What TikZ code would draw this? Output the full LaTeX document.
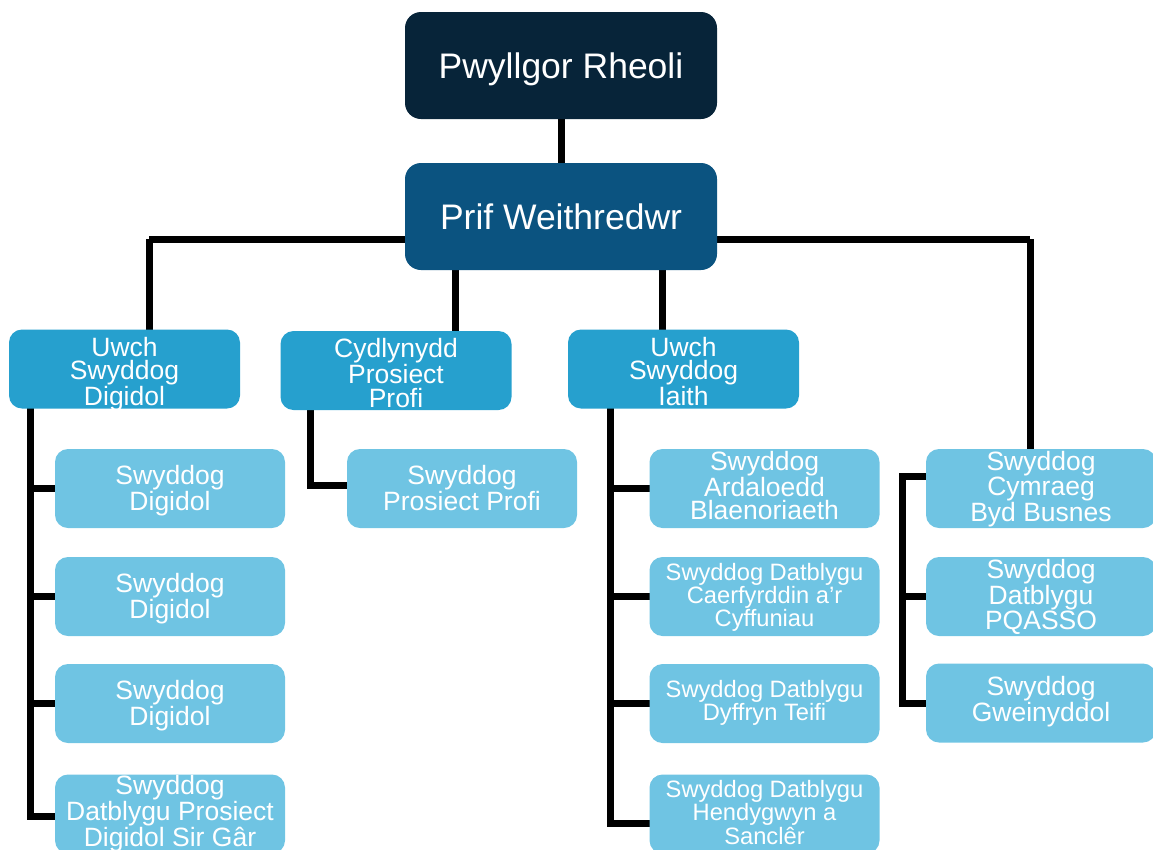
\documentclass[tikz,border=0pt]{standalone}
\usepackage{fontspec}
\setmainfont{Liberation Sans}
\definecolor{cTop}{HTML}{072439}
\definecolor{cCeo}{HTML}{0B5380}
\definecolor{cMid}{HTML}{26A0CE}
\definecolor{cLow}{HTML}{6FC4E3}
\pgfdeclarelayer{bg}
\pgfsetlayers{bg,main}
\tikzset{
  boxbase/.style={rounded corners=13pt, text=white, align=center, inner sep=0pt, draw=none, text depth=0pt},
  topbox/.style={boxbase, fill=cTop, minimum width=312pt, minimum height=107pt, rounded corners=16pt, font=\fontsize{35.5}{40}\selectfont, text height=25.4pt},
  ceobox/.style={topbox, fill=cCeo},
  midbox/.style={boxbase, fill=cMid, minimum width=231pt, minimum height=79pt, font=\fontsize{26.5}{23.5}\selectfont, text height=73pt},
  lowbox/.style={boxbase, fill=cLow, minimum width=230pt, minimum height=79pt, font=\fontsize{26.5}{23}\selectfont},
  two/.style={text height=44pt},
  three/.style={text height=64pt},
  smalltxt/.style={font=\fontsize{23.7}{22}\selectfont},
  link/.style={line width=7pt, draw=black}
}
\begin{document}
\begin{tikzpicture}[x=1pt,y=-1pt]
\useasboundingbox (0,0) rectangle (1153,849);
% nodes
\node[topbox] (top) at (561,65.5) {Pwyllgor Rheoli};
\node[ceobox] (ceo) at (561,216.5) {Prif Weithredwr};
\node[midbox] (l2a) at (124.5,369) {Uwch\\Swyddog\\Digidol};
\node[midbox] (l2b) at (396,370.5) {Cydlynydd\\Prosiect\\Profi};
\node[midbox] (l2c) at (683.5,369) {Uwch\\Swyddog\\Iaith};
% column 1
\node[lowbox,two] (c1a) at (170,488.5) {Swyddog\\Digidol};
\node[lowbox,two] (c1b) at (170,596.5) {Swyddog\\Digidol};
\node[lowbox,two] (c1c) at (170,703.5) {Swyddog\\Digidol};
\node[lowbox,three] (c1d) at (170,814) {Swyddog\\Datblygu Prosiect\\Digidol Sir Gâr};
% column 2
\node[lowbox,two] (c2a) at (462,488.5) {Swyddog\\Prosiect Profi};
% column 3
\node[lowbox,three,text height=62pt] (c3a) at (764.5,488.5) {Swyddog\\Ardaloedd\\Blaenoriaeth};
\node[lowbox,smalltxt,text height=60pt] (c3b) at (764.5,596.5) {Swyddog Datblygu\\Caerfyrddin a'r\\Cyffuniau};
\node[lowbox,smalltxt,text height=34pt] (c3c) at (764.5,703.5) {Swyddog Datblygu\\Dyffryn Teifi};
\node[lowbox,smalltxt,text height=60pt] (c3d) at (764.5,814) {Swyddog Datblygu\\Hendygwyn a\\Sanclêr};
% column 4
\node[lowbox,three,text height=65pt] (c4a) at (1041,488.5) {Swyddog\\Cymraeg\\Byd Busnes};
\node[lowbox,three,text height=65pt] (c4b) at (1041,596.5) {Swyddog\\Datblygu\\PQASSO};
\node[lowbox,text height=36pt] (c4c) at (1041,703) {Swyddog\\Gweinyddol};
% connector x positions
\coordinate (xa) at (149,0);
\coordinate (xb) at (455,0);
\coordinate (xc) at (662,0);
\coordinate (xd) at (1030,0);
\coordinate (s1) at (30,0);
\coordinate (s2) at (310,0);
\coordinate (s3) at (610,0);
\coordinate (s4) at (902,0);
\coordinate (hy) at (0,239);
\begin{pgfonlayer}{bg}
\draw[link] (top.center) -- (ceo.center);
\draw[link] (hy -| xa) -- (hy -| xd);
\draw[link] (hy -| xa) -- (l2a.center -| xa);
\draw[link] (hy -| xd) -- (c4a.center -| xd);
\draw[link] (ceo.center -| xb) -- (l2b.center -| xb);
\draw[link] (ceo.center -| xc) -- (l2c.center -| xc);
% column 1
\draw[link] (l2a.center -| s1) |- ([yshift=-2pt]c1d.west);
\draw[link] (c1a.west -| s1) -- (c1a.center);
\draw[link] (c1b.west -| s1) -- (c1b.center);
\draw[link] (c1c.west -| s1) -- (c1c.center);
% column 2
\draw[link] (l2b.center -| s2) |- ([yshift=3.5pt]c2a.center);
% column 3
\draw[link] (l2c.center -| s3) |- ([yshift=-9pt]c3d.center);
\draw[link] (c3a.west -| s3) -- (c3a.center);
\draw[link] (c3b.west -| s3) -- (c3b.center);
\draw[link] (c3c.west -| s3) -- (c3c.center);
% column 4
\draw[link] ([yshift=12.5pt]c4a.center) -| (c4c.center -| s4) -- (c4c.center);
\draw[link] (c4b.west -| s4) -- (c4b.center);
\end{pgfonlayer}
\end{tikzpicture}
\end{document}
